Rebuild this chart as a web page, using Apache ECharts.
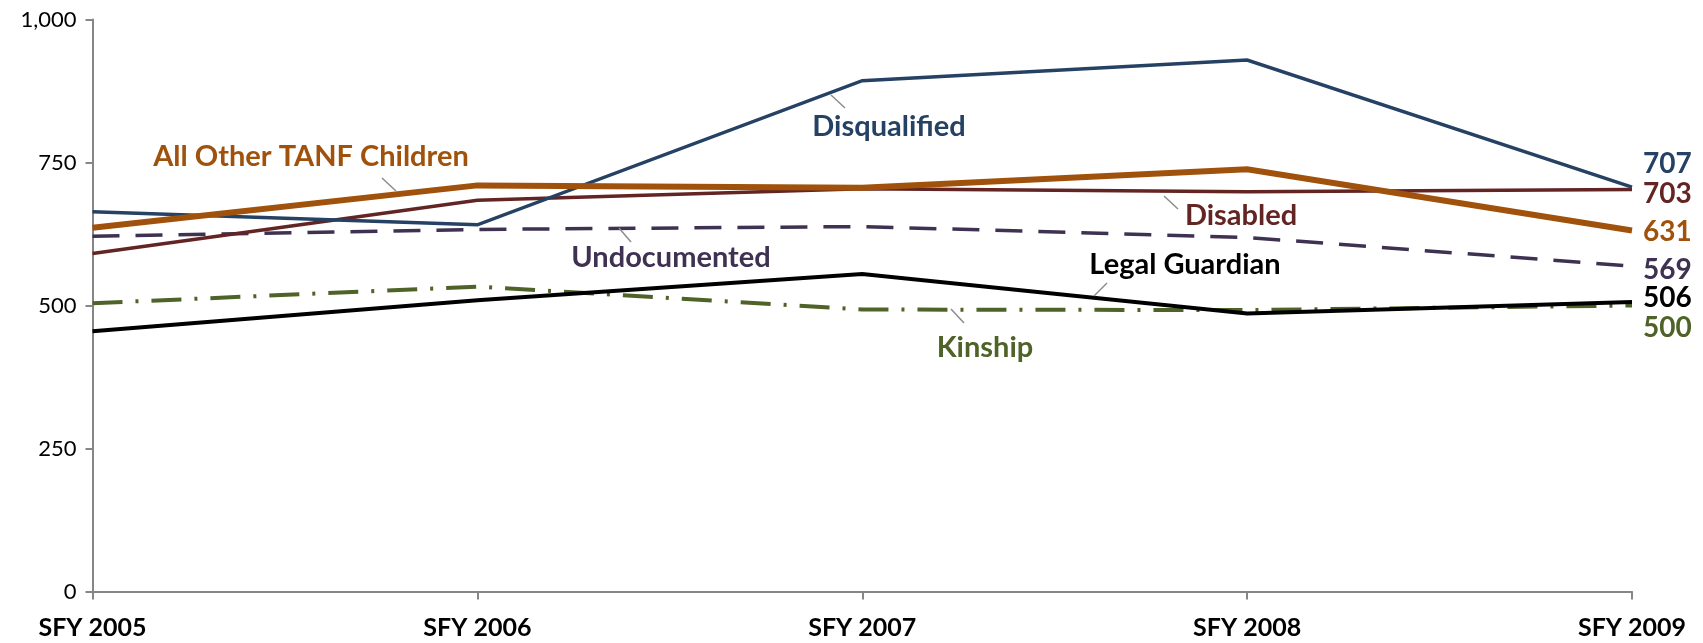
<!DOCTYPE html>
<html>
<head>
<meta charset="utf-8">
<title>TANF child-only cases</title>
<script src="https://cdn.jsdelivr.net/npm/echarts@6/dist/echarts.min.js"></script>
<style>
    html, body { margin: 0; padding: 0; background: #fff; }
    #main { width: 1703px; height: 643px; }
</style>
</head>
<body>
<div id="main"></div>
<script>
var years = ['SFY 2005', 'SFY 2006', 'SFY 2007', 'SFY 2008', 'SFY 2009'];
var disqualified = [664, 641, 893, 929, 707];
var allOtherTanf = [636, 710, 706, 738, 631];
var disabled = [591, 684, 704, 699, 703];
var undocumented = [621, 633, 638, 619, 569];
var legalGuardian = [455, 509, 555, 486, 506];
var kinship = [504, 533, 493, 492, 500];
var yTicks = [0, 250, 500, 750, 1000];

var fontName = 'Lato, "Open Sans", sans-serif';
var leaderColor = '#8c8c8c';

var myChart = echarts.init(document.getElementById('main'), null, { renderer: 'canvas' });

//折线系列
function lineSeries(name, data, color, width, dash, dy) {
    return {
        name: name,
        type: 'line',
        data: data,
        symbol: 'none',
        lineStyle: { color: color, width: width, type: dash || 'solid', cap: 'butt', join: 'miter' },
        endLabel: {
            show: true,
            formatter: '{c}',
            color: color,
            fontFamily: fontName,
            fontWeight: 'bold',
            fontSize: 28,
            distance: 11,
            offset: [0, dy]
        },
        z: 3
    };
}

//系列名称标签和引线
function nameText(text, x, y, color) {
    return {
        type: 'text',
        x: x, y: y,
        style: {
            text: text, fill: color, font: 'bold 29px ' + fontName,
            align: 'center', verticalAlign: 'middle'
        },
        z: 10
    };
}
function leader(x1, y1, x2, y2) {
    return {
        type: 'line',
        shape: { x1: x1, y1: y1, x2: x2, y2: y2 },
        style: { stroke: leaderColor, lineWidth: 1.5 },
        z: 10
    };
}

var option = {
    animation: false,
    backgroundColor: '#fff',
    grid: { left: 92.5, right: 71, top: 19.5, bottom: 51.5, containLabel: false },
    xAxis: {
        type: 'category',
        data: years,
        boundaryGap: false,
        axisLine: { lineStyle: { color: '#868686', width: 2 } },
        axisTick: { show: true, length: 8, alignWithLabel: true, lineStyle: { color: '#868686', width: 2 } },
        axisLabel: {
            color: '#000', fontFamily: fontName, fontWeight: 'bold', fontSize: 25,
            margin: 24, interval: 0
        },
        splitLine: { show: false }
    },
    yAxis: {
        type: 'value',
        min: yTicks[0],
        max: yTicks[yTicks.length - 1],
        interval: 250,
        axisLine: { show: true, lineStyle: { color: '#868686', width: 2 } },
        axisTick: { show: true, length: 7, lineStyle: { color: '#868686', width: 2 } },
        axisLabel: {
            color: '#000', fontFamily: fontName, fontSize: 22, margin: 16,
            formatter: function (v) { return v.toLocaleString('en-US'); }
        },
        splitLine: { show: false }
    },
    series: [
        lineSeries('Kinship', kinship, '#4F6228', 4, [30, 13, 3, 13], 22),
        lineSeries('Legal Guardian', legalGuardian, '#000000', 4, 'solid', -4),
        lineSeries('Undocumented', undocumented, '#3F3151', 3.5, [27, 16], 4),
        lineSeries('Disabled', disabled, '#632523', 3.5, 'solid', 5),
        lineSeries('Disqualified', disqualified, '#254163', 3.5, 'solid', -23),
        lineSeries('All Other TANF Children', allOtherTanf, '#A0510B', 6, 'solid', 1)
    ],
    graphic: [
        nameText('Disqualified', 889, 127, '#254163'),
        leader(831, 95, 845, 108),
        nameText('All Other TANF Children', 311, 157, '#A0510B'),
        leader(382, 178, 396, 191),
        nameText('Undocumented', 671, 258, '#3F3151'),
        leader(619, 228, 631, 242),
        nameText('Disabled', 1241, 216, '#632523'),
        leader(1164, 196, 1178, 209),
        nameText('Legal Guardian', 1185, 265, '#000000'),
        leader(1094, 296, 1107, 283),
        nameText('Kinship', 985, 348, '#4F6228'),
        leader(951, 309, 964, 323)
    ]
};
myChart.setOption(option);
</script>
</body>
</html>
